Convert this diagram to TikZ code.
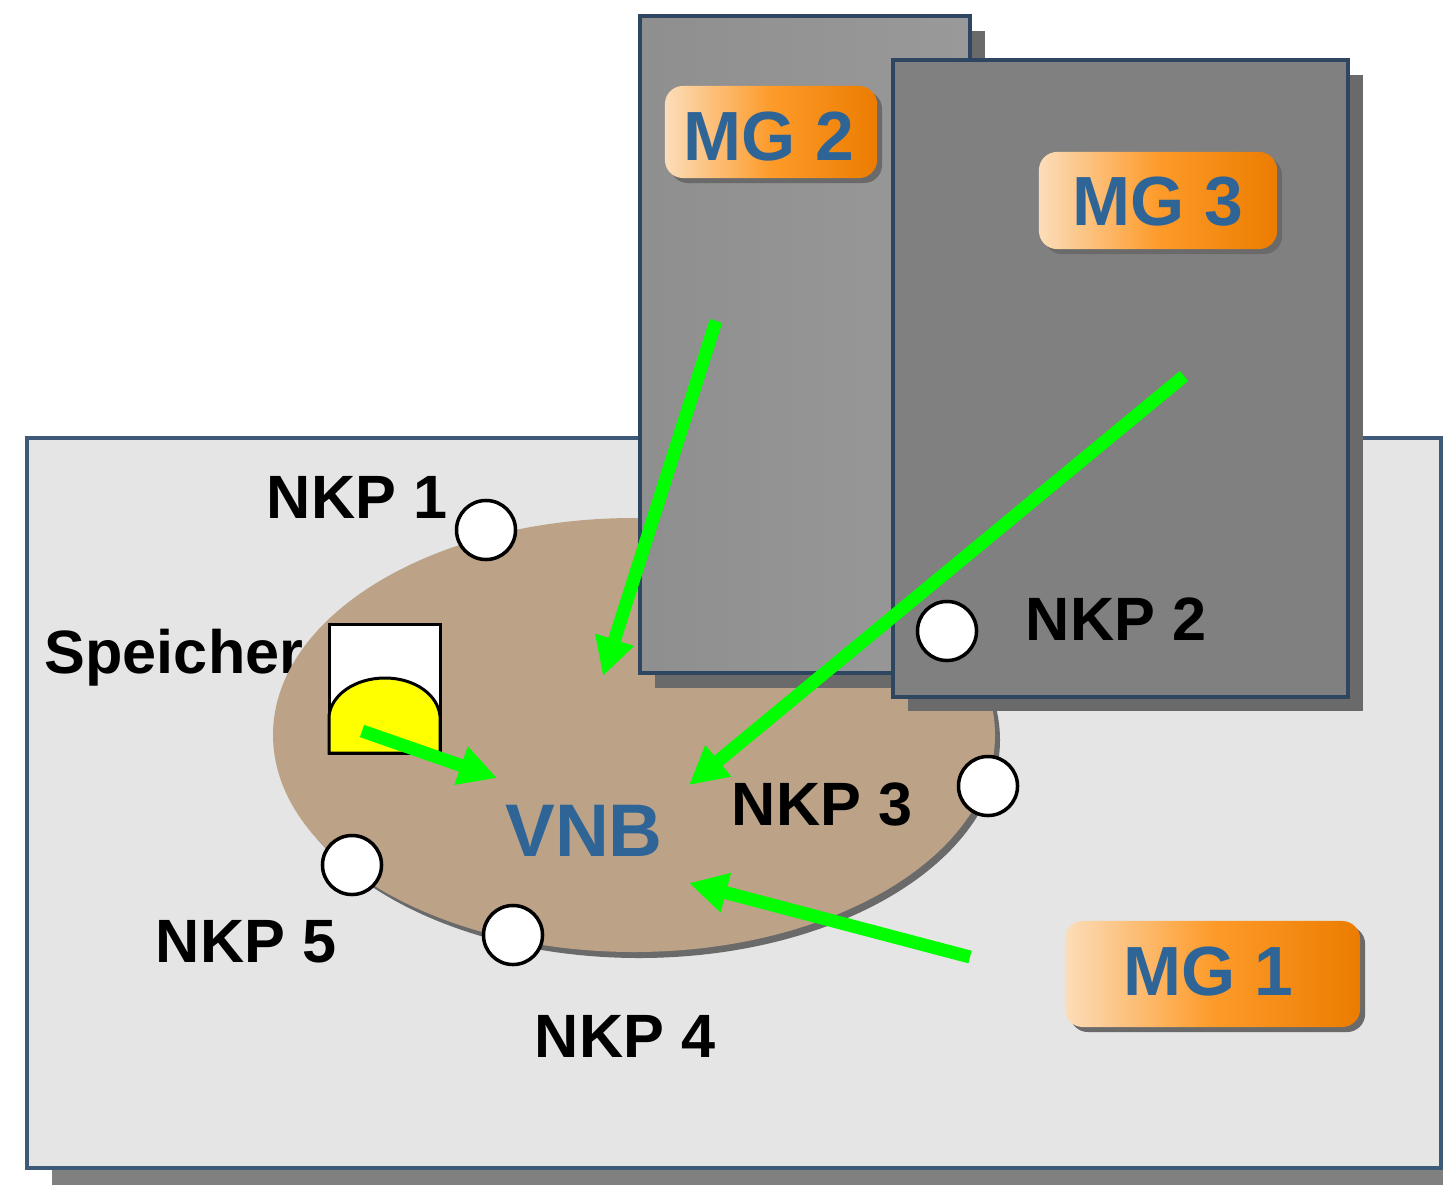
\documentclass[tikz,border=0pt]{standalone}
\usepackage{fontspec}
\setmainfont{Liberation Sans}
\usetikzlibrary{arrows.meta,shadows}
\definecolor{rahmen}{HTML}{3F5A78}
\definecolor{rahmendunkel}{HTML}{2F4660}
\definecolor{schatten}{HTML}{6A6A6A}
\definecolor{schrift}{HTML}{2F6496}
\definecolor{mglinks}{HTML}{FCDDBA}
\definecolor{mgmitte}{HTML}{FD9B2A}
\definecolor{mgrechts}{HTML}{EC7C00}
\definecolor{gebiet}{HTML}{BCA287}
\definecolor{gelb}{HTML}{FFFF00}
\definecolor{pfeil}{HTML}{00FF00}
\tikzset{
    netz/.style={draw=rahmen,line width=0.035cm},
    grid box/.style={draw=rahmendunkel,line width=0.04cm},
    nkp/.style={circle,draw=black,line width=0.035cm,fill=white,minimum size=0.59cm,inner sep=0pt},
    nkptext/.style={font=\bfseries\fontsize{17.4}{20}\selectfont,inner sep=0pt},
    mg/.style={rounded corners=0.18cm,left color=mglinks,right color=mgrechts,middle color=mgmitte,
        inner sep=0pt,text=schrift,font=\bfseries\fontsize{19.8}{24}\selectfont,
        drop shadow={shadow xshift=0.05cm,shadow yshift=-0.05cm,fill=schatten,opacity=1}},
    fluss/.style={-{Triangle[length=0.38cm,width=0.38cm]},draw=pfeil,line width=0.13cm}
}
\begin{document}
\begin{tikzpicture}[x=0.01cm,y=-0.01cm]
    \useasboundingbox (0,0) rectangle (1443,1185);
    \fill[white] (0,0) rectangle (1443,1185);
    % Netzgebiet
    \fill[schatten!85!white] (52,463) rectangle (1443,1185);
    \draw[netz,fill={rgb,255:red,229;green,229;blue,229}] (27,438) rectangle (1441,1168);
    \node[nkptext] (speichertext) at (174,658) {Speicher};
    \fill[schatten] (639,740) ellipse [x radius=361,y radius=218];
    \fill[gebiet] (634,735) ellipse [x radius=361,y radius=217];
    % Microgrids
    \fill[schatten] (655,31) rectangle (985,688);
    \draw[grid box,left color=black!44,right color=black!40] (640,16) rectangle (970,673);
    \fill[schatten] (908,75) rectangle (1363,711);
    \draw[grid box,fill=black!50] (893,60) rectangle (1348,697);
    % Speicher
    \draw[line width=0.03cm,fill=white] (329,624) rectangle (440,753);
    \draw[line width=0.03cm,fill=gelb] (329,753) -- (329,716) .. controls (331,695) and (355,678) .. (385,678) .. controls (415,678) and (438,695) .. (440,716) -- (440,753) -- cycle;
    % Beschriftung
    \node[mg,minimum width=2.12cm,minimum height=0.92cm,text height=0.56cm,text depth=0cm] (mg2) at (771,132) {MG 2\kern0.04cm};
    \node[mg,minimum width=2.38cm,minimum height=0.97cm,text height=0.49cm,text depth=0cm] (mg3) at (1158,200.5) {MG 3};
    \node[mg,minimum width=2.95cm,minimum height=1.06cm,text height=0.52cm,text depth=0.1cm] (mg1) at (1212.5,974) {MG 1\kern0.08cm};
    \node[text=schrift,font=\bfseries\fontsize{21.2}{24}\selectfont,inner sep=0pt] (vnb) at (584,831) {VNB};
    \node[nkptext] (nkp1text) at (357,497) {NKP 1};
    \node[nkptext] (nkp2text) at (1116,619) {NKP 2};
    \node[nkptext] (nkp3text) at (822,804) {NKP 3};
    \node[nkptext] (nkp4text) at (625,1036) {NKP 4};
    \node[nkptext] (nkp5text) at (246,942) {NKP 5};
    % Pfeile
    \coordinate (start2) at (716,321); \coordinate (ziel2) at (603,676);
    \coordinate (start3) at (1184,376); \coordinate (ziel3) at (689,785);
    \coordinate (start1) at (970,957); \coordinate (ziel1) at (689,883);
    \coordinate (startS) at (362,731); \coordinate (zielS) at (497,778);
    \draw[fluss] (start2) -- (ziel2);
    \draw[fluss] (start3) -- (ziel3);
    \draw[fluss] (start1) -- (ziel1);
    \draw[fluss] (startS) -- (zielS);
    % Netzknoten
    \node[nkp] (nkp1) at (486,530) {};
    \node[nkp] (nkp2) at (947,631) {};
    \node[nkp] (nkp3) at (988,786) {};
    \node[nkp] (nkp4) at (513,935) {};
    \node[nkp] (nkp5) at (352,865) {};
\end{tikzpicture}
\end{document}
